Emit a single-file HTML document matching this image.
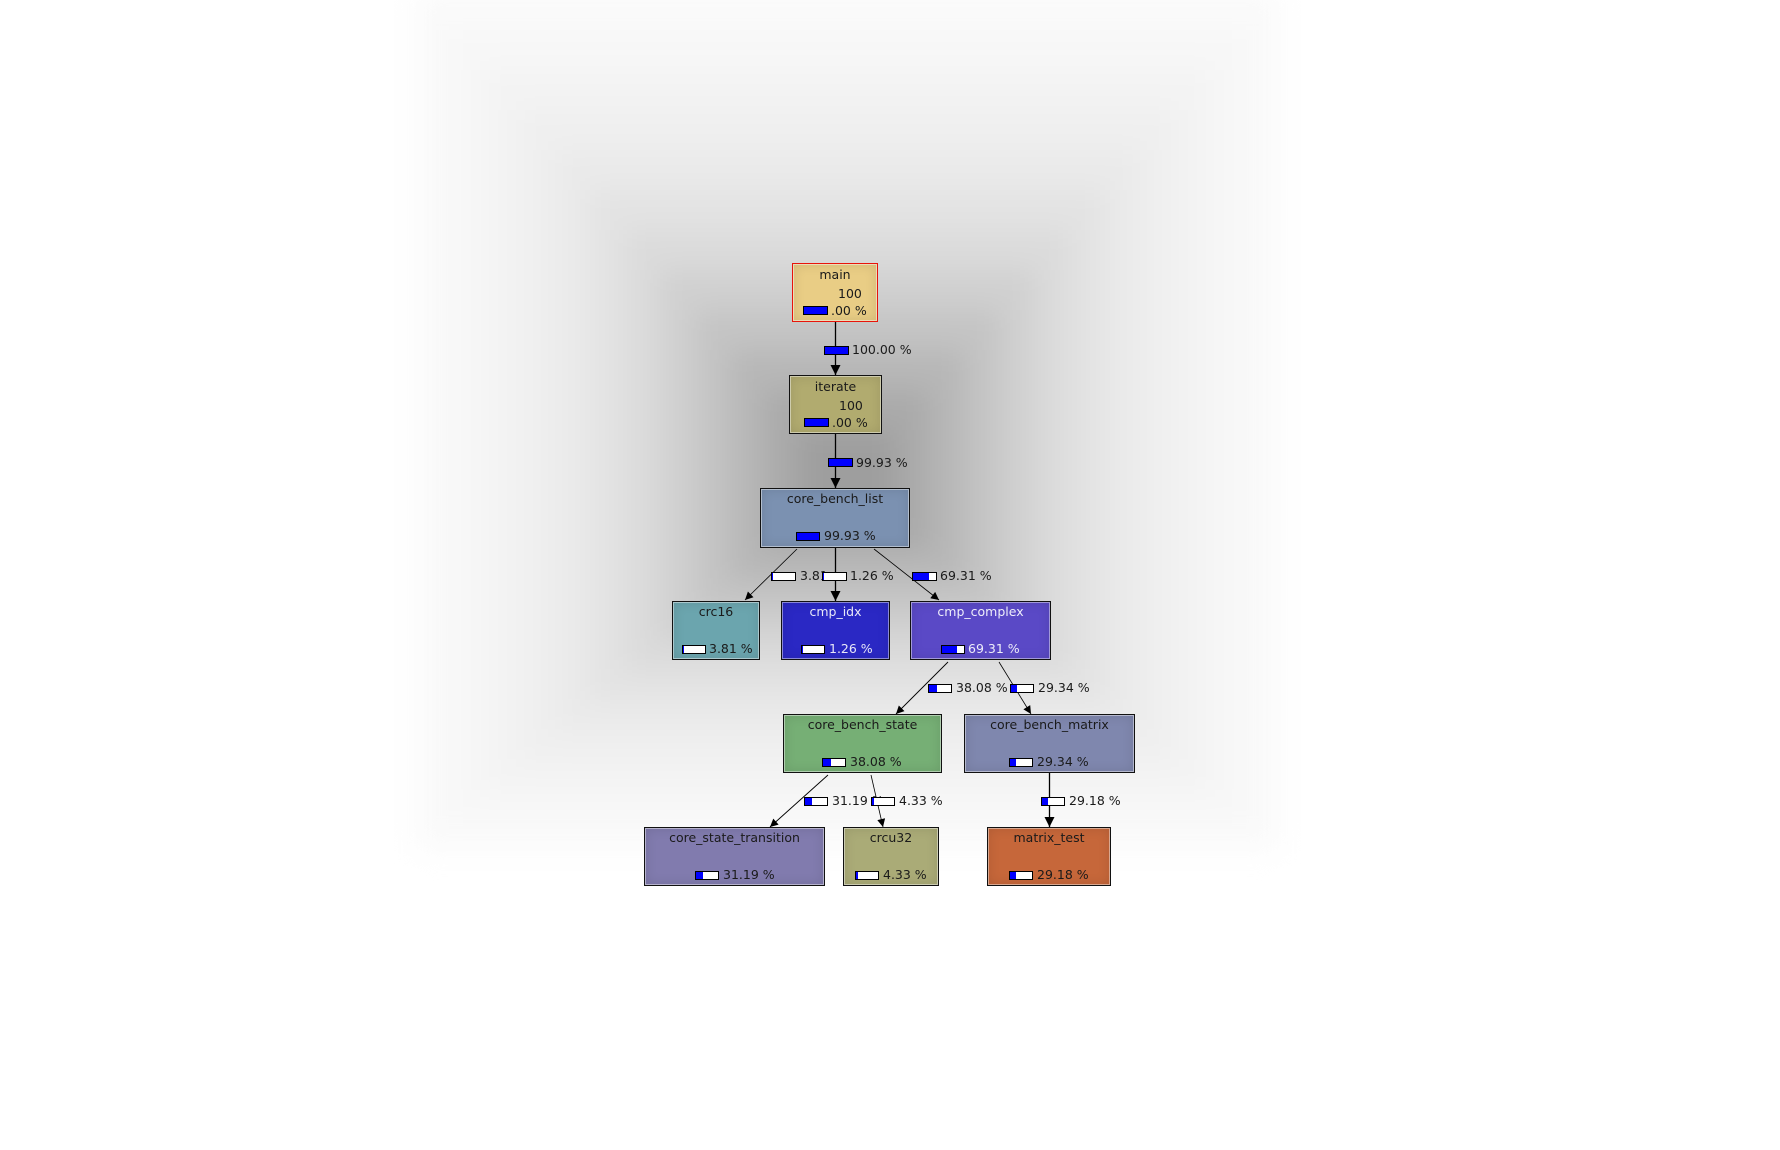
<!DOCTYPE html>
<html><head><meta charset="utf-8"><style>
body{margin:0;width:1780px;height:1150px;background:#fff;position:relative;overflow:hidden;font-family:"DejaVu Sans","Liberation Sans",sans-serif;font-size:12.5px;color:#1a1a1a}
.bgw{position:absolute;left:0;top:0;width:1780px;height:1150px;filter:blur(14px)}
.r{position:absolute}
.n{position:absolute;box-sizing:border-box;border:1px solid #111;box-shadow:inset 0 0 0 1px rgba(255,255,255,.45),inset 0 0 12px rgba(0,0,0,.12)}
.t{position:absolute;white-space:nowrap;line-height:16px}
.b{position:absolute;box-sizing:border-box;height:9px;border:1px solid #000;background:#fff}
.b i{position:absolute;left:0;top:0;bottom:0;background:#0000ff}
svg{position:absolute;left:0;top:0}
</style></head><body>
<div class="bgw">
<div class="r" style="left:415px;top:-10px;width:865px;height:860px;background:#fafafa"></div>
<div class="r" style="left:450px;top:30px;width:795px;height:790px;background:#f7f7f7"></div>
<div class="r" style="left:485px;top:70px;width:725px;height:720px;background:#f3f3f3"></div>
<div class="r" style="left:520px;top:110px;width:655px;height:650px;background:#efefef"></div>
<div class="r" style="left:555px;top:150px;width:585px;height:580px;background:#eaeaea"></div>
<div class="r" style="left:590px;top:190px;width:515px;height:510px;background:#e3e3e3"></div>
<div class="r" style="left:625px;top:230px;width:445px;height:440px;background:#dbdbdb"></div>
<div class="r" style="left:660px;top:270px;width:375px;height:370px;background:#d0d0d0"></div>
<div class="r" style="left:695px;top:310px;width:305px;height:300px;background:#c4c4c4"></div>
<div class="r" style="left:730px;top:350px;width:235px;height:230px;background:#b7b7b7"></div>
<div class="r" style="left:765px;top:390px;width:165px;height:160px;background:#aaaaaa"></div>
<div class="r" style="left:800px;top:430px;width:95px;height:90px;background:#9e9e9e"></div>
</div>

<svg width="1780" height="1150">
<defs>
<marker id="a" viewBox="0 0 10 10" refX="10" refY="5" markerWidth="10" markerHeight="10" markerUnits="userSpaceOnUse" orient="auto"><path d="M0,0L10,5L0,10z" fill="#000"/></marker>
<marker id="s" viewBox="0 0 10 10" refX="10" refY="5" markerWidth="9" markerHeight="8" markerUnits="userSpaceOnUse" orient="auto"><path d="M0,0L10,5L0,10z" fill="#000"/></marker>
</defs>
<g stroke="#000" fill="none">
<line x1="835.5" y1="322" x2="835.5" y2="375" stroke-width="1.3" marker-end="url(#a)"/>
<line x1="835.5" y1="434" x2="835.5" y2="488" stroke-width="1.3" marker-end="url(#a)"/>
<line x1="835.5" y1="548" x2="835.5" y2="601" stroke-width="1.3" marker-end="url(#a)"/>
<line x1="797" y1="549" x2="745" y2="600" stroke-width="0.8" marker-end="url(#s)"/>
<line x1="874" y1="549" x2="939" y2="600" stroke-width="0.8" marker-end="url(#s)"/>
<line x1="948" y1="662" x2="896" y2="714" stroke-width="0.9" marker-end="url(#s)"/>
<line x1="999" y1="662" x2="1031" y2="714" stroke-width="0.8" marker-end="url(#s)"/>
<line x1="828" y1="775" x2="770" y2="827" stroke-width="0.9" marker-end="url(#s)"/>
<line x1="871" y1="775" x2="883" y2="827" stroke-width="0.8" marker-end="url(#s)"/>
<line x1="1049.5" y1="773" x2="1049.5" y2="827" stroke-width="1.3" marker-end="url(#a)"/>
</g>
</svg>

<!-- edge labels -->
<div class="b" style="left:824px;top:346px;width:25px"><i style="width:100%"></i></div><div class="t" style="left:852px;top:342px">100.00 %</div>
<div class="b" style="left:828px;top:458px;width:25px"><i style="width:100%"></i></div><div class="t" style="left:856px;top:455px">99.93 %</div>
<div class="b" style="left:771px;top:572px;width:25px"><i style="width:1px"></i></div><div class="t" style="left:800px;top:568px">3.81</div>
<div class="b" style="left:822px;top:572px;width:25px"><i style="width:1px"></i></div><div class="t" style="left:850px;top:568px">1.26 %</div>
<div class="b" style="left:912px;top:572px;width:25px"><i style="width:68%"></i></div><div class="t" style="left:940px;top:568px">69.31 %</div>
<div class="b" style="left:928px;top:684px;width:24px"><i style="width:38%"></i></div><div class="t" style="left:956px;top:680px">38.08 %</div>
<div class="b" style="left:1010px;top:684px;width:24px"><i style="width:29%"></i></div><div class="t" style="left:1038px;top:680px">29.34 %</div>
<div class="b" style="left:804px;top:797px;width:24px"><i style="width:31%"></i></div><div class="t" style="left:832px;top:793px">31.19 %</div>
<div class="b" style="left:871px;top:797px;width:24px"><i style="width:2px"></i></div><div class="t" style="left:899px;top:793px">4.33 %</div>
<div class="b" style="left:1041px;top:797px;width:24px"><i style="width:29%"></i></div><div class="t" style="left:1069px;top:793px">29.18 %</div>

<!-- nodes -->
<div class="n" style="left:792px;top:263px;width:86px;height:59px;background:#e9cd85;border-color:#e8140a"></div>
<div class="t" style="left:792px;width:86px;text-align:center;top:267px">main</div>
<div class="t" style="left:838px;top:286px">100</div>
<div class="b" style="left:803px;top:306px;width:25px"><i style="width:100%"></i></div><div class="t" style="left:831px;top:303px">.00 %</div>

<div class="n" style="left:789px;top:375px;width:93px;height:59px;background:#b1ab6f"></div>
<div class="t" style="left:789px;width:93px;text-align:center;top:379px">iterate</div>
<div class="t" style="left:839px;top:398px">100</div>
<div class="b" style="left:804px;top:418px;width:25px"><i style="width:100%"></i></div><div class="t" style="left:832px;top:415px">.00 %</div>

<div class="n" style="left:760px;top:488px;width:150px;height:60px;background:#7b91b1"></div>
<div class="t" style="left:760px;width:150px;text-align:center;top:491px">core_bench_list</div>
<div class="b" style="left:796px;top:532px;width:24px"><i style="width:100%"></i></div><div class="t" style="left:824px;top:528px">99.93 %</div>

<div class="n" style="left:672px;top:601px;width:88px;height:59px;background:#6ba5ae"></div>
<div class="t" style="left:672px;width:88px;text-align:center;top:604px">crc16</div>
<div class="b" style="left:682px;top:645px;width:24px"><i style="width:1px"></i></div><div class="t" style="left:709px;top:641px">3.81 %</div>

<div class="n" style="left:781px;top:601px;width:109px;height:59px;background:#2a28c4"></div>
<div class="t" style="left:781px;width:109px;text-align:center;top:604px;color:#e8e8f8">cmp_idx</div>
<div class="b" style="left:801px;top:645px;width:24px"><i style="width:1px"></i></div><div class="t" style="left:829px;top:641px;color:#e8e8f8">1.26 %</div>

<div class="n" style="left:910px;top:601px;width:141px;height:59px;background:#5a49c6"></div>
<div class="t" style="left:910px;width:141px;text-align:center;top:604px;color:#eeeefa">cmp_complex</div>
<div class="b" style="left:941px;top:645px;width:24px"><i style="width:68%"></i></div><div class="t" style="left:968px;top:641px;color:#eeeefa">69.31 %</div>

<div class="n" style="left:783px;top:714px;width:159px;height:59px;background:#76af75"></div>
<div class="t" style="left:783px;width:159px;text-align:center;top:717px">core_bench_state</div>
<div class="b" style="left:822px;top:758px;width:24px"><i style="width:38%"></i></div><div class="t" style="left:850px;top:754px">38.08 %</div>

<div class="n" style="left:964px;top:714px;width:171px;height:59px;background:#7f87ae"></div>
<div class="t" style="left:964px;width:171px;text-align:center;top:717px">core_bench_matrix</div>
<div class="b" style="left:1009px;top:758px;width:24px"><i style="width:29%"></i></div><div class="t" style="left:1037px;top:754px">29.34 %</div>

<div class="n" style="left:644px;top:827px;width:181px;height:59px;background:#817bae"></div>
<div class="t" style="left:644px;width:181px;text-align:center;top:830px">core_state_transition</div>
<div class="b" style="left:695px;top:871px;width:24px"><i style="width:31%"></i></div><div class="t" style="left:723px;top:867px">31.19 %</div>

<div class="n" style="left:843px;top:827px;width:96px;height:59px;background:#aaab77"></div>
<div class="t" style="left:843px;width:96px;text-align:center;top:830px">crcu32</div>
<div class="b" style="left:855px;top:871px;width:24px"><i style="width:2px"></i></div><div class="t" style="left:883px;top:867px">4.33 %</div>

<div class="n" style="left:987px;top:827px;width:124px;height:59px;background:#c6673a"></div>
<div class="t" style="left:987px;width:124px;text-align:center;top:830px">matrix_test</div>
<div class="b" style="left:1009px;top:871px;width:24px"><i style="width:29%"></i></div><div class="t" style="left:1037px;top:867px">29.18 %</div>
</body></html>
